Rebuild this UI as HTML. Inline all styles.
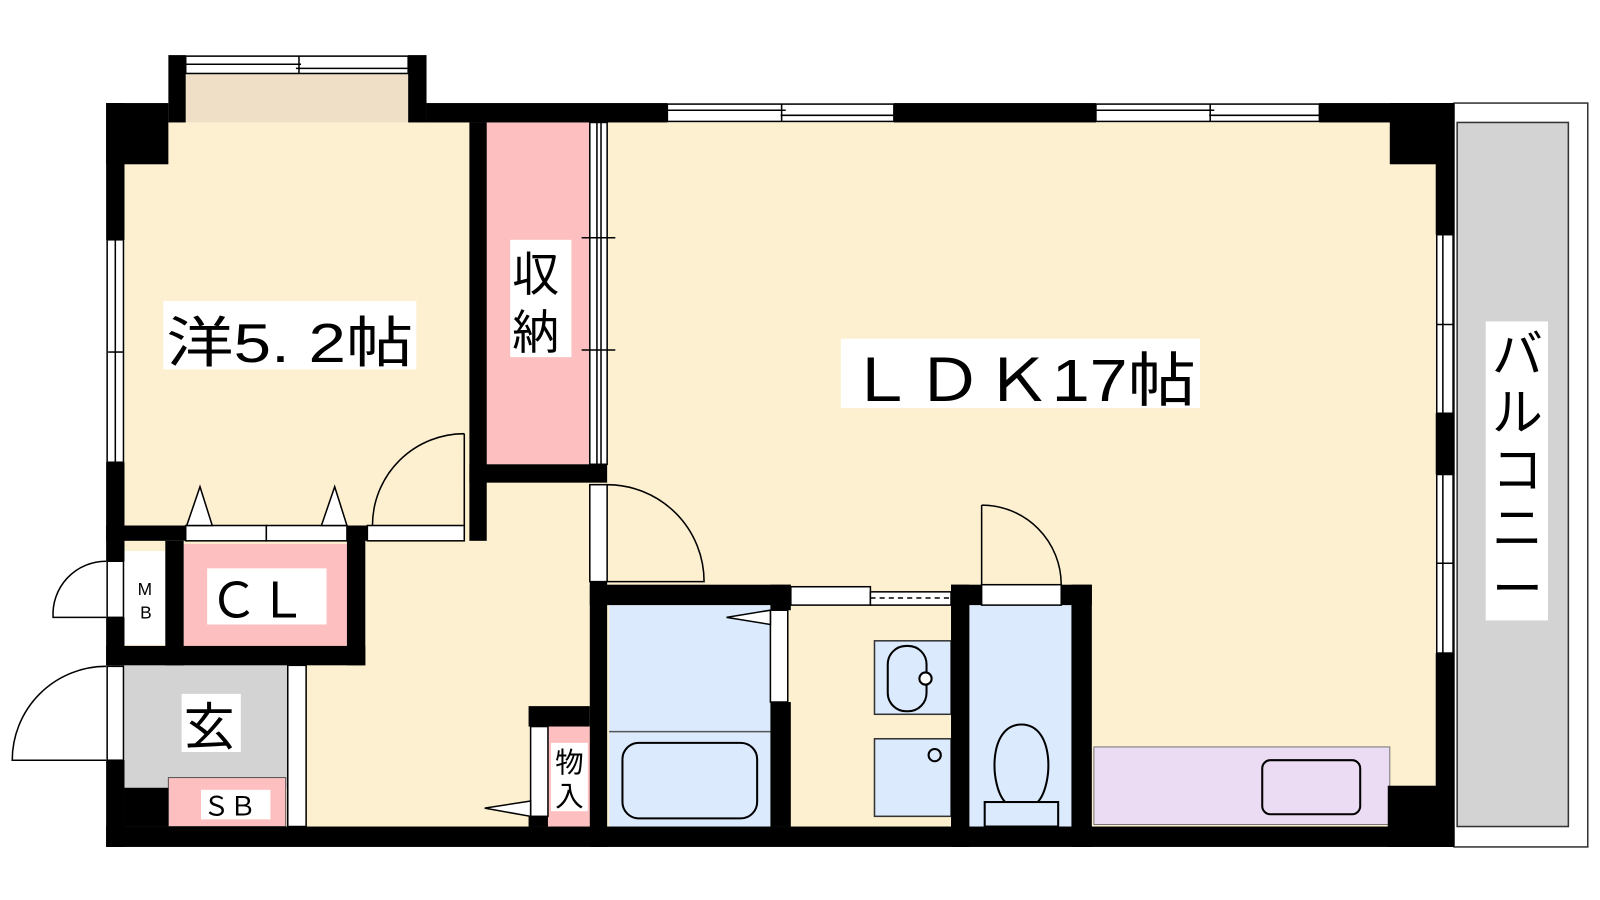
<!DOCTYPE html>
<html><head><meta charset="utf-8"><style>
html,body{margin:0;padding:0;background:#fff;width:1600px;height:900px;overflow:hidden}
svg{display:block}
text{font-family:"Liberation Sans","Noto Sans CJK JP",sans-serif;fill:#000}
</style></head><body>
<svg width="1600" height="900" viewBox="0 0 1568 882" xmlns="http://www.w3.org/2000/svg">
<rect x="122" y="120" width="1285" height="690" fill="#fdf0d0"/>
<rect x="182" y="72" width="218" height="48" fill="#eedfc6"/>
<rect x="477" y="120" width="101" height="335" fill="#fdbfbf"/>
<rect x="180" y="533" width="160" height="100" fill="#fdbfbf"/>
<rect x="122" y="540" width="40" height="92" fill="#fff"/>
<rect x="122" y="652" width="160" height="120" fill="#d3d3d3"/>
<rect x="165" y="762" width="115" height="48" fill="#fdbfbf" stroke="#555" stroke-width="1"/>
<rect x="537" y="712" width="41" height="98" fill="#fdbfbf"/>
<rect x="597" y="593" width="158" height="217" fill="#dbeafd"/>
<line x1="597" y1="717" x2="755" y2="717" stroke="#555" stroke-width="1.5"/>
<rect x="610" y="728" width="132" height="74" rx="16" fill="none" stroke="#000" stroke-width="2"/>
<rect x="857" y="628" width="75" height="72" fill="#dbeafd" stroke="#333" stroke-width="1.5"/>
<rect x="870" y="633" width="38" height="64" rx="18" fill="none" stroke="#000" stroke-width="2"/>
<circle cx="907" cy="665" r="6" fill="#fff" stroke="#000" stroke-width="2"/>
<rect x="857" y="724" width="75" height="76" fill="#dbeafd" stroke="#333" stroke-width="1.5"/>
<circle cx="916" cy="740" r="6" fill="none" stroke="#000" stroke-width="2"/>
<rect x="950" y="593" width="100" height="217" fill="#dbeafd"/>
<path d="M985 786 C970 770 968 710 1001 710 C1034 710 1032 770 1017 786 Z" fill="none" stroke="#000" stroke-width="2"/>
<rect x="965" y="786" width="72" height="24" fill="none" stroke="#000" stroke-width="2"/>
<rect x="1072" y="732" width="290" height="76" fill="#ecdcf3" stroke="#777" stroke-width="1"/>
<rect x="1237" y="745" width="96" height="53" rx="8" fill="none" stroke="#000" stroke-width="2"/>
<rect x="1425" y="101" width="131" height="729" fill="#fff" stroke="#333" stroke-width="1.5"/>
<rect x="1428" y="120" width="109" height="690" fill="#d3d3d3" stroke="#333" stroke-width="1.5"/>
<g fill="#000">
<rect x="104" y="101" width="61" height="60"/>
<rect x="104" y="101" width="18" height="134"/>
<rect x="104" y="453" width="18" height="97"/>
<rect x="104" y="605" width="18" height="47"/>
<rect x="104" y="745" width="18" height="85"/>
<rect x="165" y="54" width="17" height="66"/>
<rect x="400" y="54" width="18" height="66"/>
<rect x="418" y="101" width="236" height="19"/>
<rect x="876" y="101" width="198" height="19"/>
<rect x="1293" y="101" width="132" height="19"/>
<rect x="1362" y="101" width="63" height="60"/>
<rect x="1407" y="101" width="18" height="129"/>
<rect x="1407" y="405" width="18" height="60"/>
<rect x="1407" y="640" width="18" height="190"/>
<rect x="1360" y="770" width="65" height="60"/>
<rect x="104" y="810" width="1321" height="20"/>
<rect x="460" y="120" width="17" height="410"/>
<rect x="460" y="455" width="135" height="18"/>
<rect x="104" y="515" width="78" height="15"/>
<rect x="340" y="515" width="20" height="15"/>
<rect x="162" y="530" width="18" height="122"/>
<rect x="340" y="515" width="18" height="137"/>
<rect x="104" y="633" width="254" height="19"/>
<rect x="122" y="772" width="43" height="38"/>
<rect x="518" y="692" width="60" height="20"/>
<rect x="518" y="800" width="19" height="10"/>
<rect x="578" y="570" width="17" height="260"/>
<rect x="578" y="573" width="197" height="20"/>
<rect x="755" y="573" width="20" height="25"/>
<rect x="755" y="688" width="20" height="122"/>
<rect x="932" y="573" width="18" height="257"/>
<rect x="932" y="573" width="30" height="20"/>
<rect x="1040" y="573" width="30" height="20"/>
<rect x="1050" y="573" width="20" height="257"/>
</g>
<g fill="#fff" stroke="#000" stroke-width="1.5">
<rect x="182" y="55" width="218" height="17"/>
<rect x="654" y="102" width="222" height="17"/>
<rect x="1074" y="102" width="219" height="17"/>
<rect x="105" y="235" width="16" height="218"/>
<rect x="1408" y="230" width="16" height="175"/>
<rect x="1408" y="465" width="16" height="175"/>
<rect x="578" y="120" width="17" height="335"/>
<rect x="182" y="515" width="79" height="15"/>
<rect x="261" y="515" width="79" height="15"/>
<rect x="360" y="515" width="95" height="15"/>
<rect x="105" y="550" width="16" height="55"/>
<rect x="105" y="653" width="16" height="92"/>
<rect x="282" y="652" width="18" height="158"/>
<rect x="520" y="712" width="17" height="88"/>
<rect x="578" y="475" width="17" height="95"/>
<rect x="775" y="575" width="78" height="18"/>
<rect x="853" y="580" width="79" height="13"/>
<rect x="755" y="598" width="17" height="90"/>
<rect x="962" y="573" width="78" height="20"/>
</g>
<g stroke="#000" stroke-width="1.5" fill="none">
<line x1="182" y1="63" x2="295" y2="63"/><line x1="290" y1="67" x2="400" y2="67"/><line x1="293" y1="55" x2="293" y2="72"/>
<line x1="654" y1="108" x2="770" y2="108"/><line x1="765" y1="113" x2="876" y2="113"/><line x1="766" y1="102" x2="766" y2="119"/>
<line x1="1074" y1="108" x2="1190" y2="108"/><line x1="1185" y1="113" x2="1293" y2="113"/><line x1="1186" y1="102" x2="1186" y2="119"/>
<line x1="113" y1="235" x2="113" y2="453"/><line x1="106" y1="345" x2="121" y2="345"/>
<line x1="1414" y1="230" x2="1414" y2="405"/><line x1="1408" y1="318" x2="1424" y2="318"/>
<line x1="1414" y1="465" x2="1414" y2="640"/><line x1="1408" y1="552" x2="1424" y2="552"/>
<line x1="585" y1="120" x2="585" y2="455"/><line x1="589" y1="120" x2="589" y2="455"/><line x1="570" y1="233" x2="603" y2="233"/><line x1="570" y1="343" x2="603" y2="343"/>
<line x1="853" y1="586" x2="932" y2="586" stroke-dasharray="5,4"/>
<path d="M455 425 L455 515 M455 425 A90 90 0 0 0 365 515"/>
<path d="M104 550 A52 52 0 0 0 52 605 L104 605"/>
<path d="M104 653 A92 92 0 0 0 12 745 L104 745"/>
<path d="M595 475 A95 95 0 0 1 690 570 L595 570"/>
<path d="M962 495 L962 573 M962 495 A78 78 0 0 1 1040 573"/>
</g>
<g fill="#fff" stroke="#000" stroke-width="1.5">
<polygon points="183,515 196,477 208,515"/>
<polygon points="315,515 328,477 340,515"/>
<polygon points="712,605 755,598 755,612"/>
<polygon points="475,792 520,785 520,800"/>
</g>
<g fill="#fff">
<rect x="160" y="295" width="248" height="67"/>
<rect x="500" y="235" width="60" height="115"/>
<rect x="824" y="332" width="352" height="68"/>
<rect x="1456" y="315" width="61" height="293"/>
<rect x="203" y="557" width="117" height="55"/>
<rect x="178" y="680" width="58" height="57"/>
<rect x="197" y="774" width="68" height="29"/>
<rect x="540" y="728" width="36" height="67"/>
</g>
<text x="163" y="355" font-size="54" textLength="242" lengthAdjust="spacingAndGlyphs">洋5. 2帖</text>
<text x="502" y="285" font-size="46">収</text>
<text x="502" y="342" font-size="46">納</text>
<text x="830" y="393" font-size="58" textLength="342" lengthAdjust="spacingAndGlyphs">ＬＤＫ17帖</text>
<g font-size="50" text-anchor="middle">
<text x="1487" y="365">バ</text><text x="1487" y="422">ル</text><text x="1487" y="478">コ</text><text x="1487" y="535">ニ</text><text x="1487" y="595">ー</text>
</g>
<text x="205" y="605" font-size="48">ＣＬ</text>
<text x="142" y="583" font-size="17" text-anchor="middle">M</text>
<text x="143" y="606" font-size="17" text-anchor="middle">B</text>
<text x="180" y="730" font-size="50">玄</text>
<text x="199" y="799" font-size="26">ＳＢ</text>
<text x="558" y="757" font-size="28" text-anchor="middle">物</text>
<text x="558" y="790" font-size="28" text-anchor="middle">入</text>
</svg>
</body></html>
